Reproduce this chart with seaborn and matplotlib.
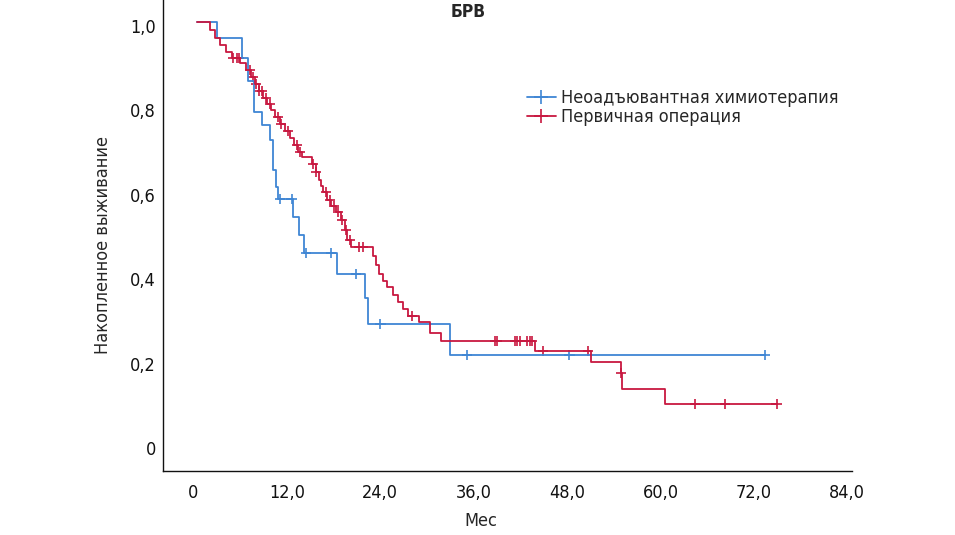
import matplotlib
matplotlib.use('Agg')
import numpy as np
import pandas as pd
import matplotlib.pyplot as plt
import seaborn as sns
from matplotlib.lines import Line2D
from matplotlib.transforms import ScaledTranslation

# groups
groups = ['Неоадъювантная химиотерапия', 'Первичная операция']
colors = ['#3f86d4', '#c81840']

# Kaplan-Meier steps (months, survival after the drop)
nac_t = [2.5, 5.7, 6.5, 7.3, 8.25, 9.3, 9.7, 10.1, 10.4, 12.3, 13.0, 13.7,
         17.9, 21.5, 21.9, 32.4]
nac_s = [0.963, 0.914, 0.859, 0.787, 0.756, 0.720, 0.649, 0.610, 0.581,
         0.539, 0.495, 0.453, 0.402, 0.345, 0.284, 0.211]
nac_cens = [10.6, 12.1, 13.9, 17.2, 20.4, 23.5, 34.6, 47.8, 72.9]

op_t = [1.6, 2.25, 2.9, 3.65, 4.4, 5.45, 6.25, 6.9, 7.4, 7.9, 8.4, 8.95,
        9.45, 9.95, 10.6, 11.25, 11.9, 12.4, 12.9, 13.4, 14.7, 15.2, 15.6,
        15.9, 16.1, 16.6, 17.2, 17.8, 18.4, 19.0, 19.2, 19.7, 22.6, 23.0,
        23.3, 23.8, 24.4, 25.1, 25.8, 26.4, 27.1, 28.5, 29.9, 31.3, 43.4,
        50.5, 54.4, 54.6, 60.1]
op_s = [0.981, 0.962, 0.945, 0.929, 0.915, 0.903, 0.886, 0.870, 0.853,
        0.836, 0.820, 0.806, 0.791, 0.775, 0.758, 0.742, 0.725, 0.709,
        0.692, 0.680, 0.664, 0.645, 0.626, 0.611, 0.597, 0.578, 0.564,
        0.550, 0.531, 0.507, 0.483, 0.467, 0.445, 0.424, 0.403, 0.386,
        0.372, 0.353, 0.336, 0.320, 0.303, 0.289, 0.263, 0.244, 0.220,
        0.194, 0.168, 0.130, 0.095]
op_cens = [4.56, 5.08, 5.3, 6.75, 7.13, 7.52, 7.9, 8.29, 8.8, 9.32, 10.35,
           10.73, 11.63, 12.79, 13.17, 14.84, 15.23, 16.5, 17.0, 17.54,
           18.05, 18.57, 19.09, 19.6, 20.76, 21.27, 27.57, 38.24, 38.53,
           40.8, 41.1, 41.4, 42.4, 42.7, 43.0, 44.4, 50.2, 54.45, 63.9,
           67.8, 74.4]

x_ticks = [0, 12, 24, 36, 48, 60, 72, 84]
x_labels = ['0', '12,0', '24,0', '36,0', '48,0', '60,0', '72,0', '84,0']
y_ticks = [0, 0.2, 0.4, 0.6, 0.8, 1.0]
y_labels = ['0', '0,2', '0,4', '0,6', '0,8', '1,0']


def level_at(t, s, x):
    i = np.searchsorted(t, x, side='right')
    return 1.0 if i == 0 else s[i - 1]


lines = []
cens = []
for name, t, s, c in [(groups[0], nac_t, nac_s, nac_cens),
                      (groups[1], op_t, op_s, op_cens)]:
    tt = [0.0] + t + [max(c)]
    ss = [1.0] + s + [s[-1]]
    lines.append(pd.DataFrame({'t': tt, 's': ss, 'group': name}))
    cens.append(pd.DataFrame({'t': c, 's': [level_at(t, s, x) for x in c],
                              'group': name}))
line_df = pd.concat(lines, ignore_index=True)
cens_df = pd.concat(cens, ignore_index=True)

sns.set_style('white')
plt.rcParams['font.family'] = ['Liberation Sans Narrow', 'DejaVu Sans']
plt.rcParams['font.stretch'] = 'condensed'

fig = plt.figure(figsize=(9.55, 5.35), dpi=100)
ax = fig.add_axes([163 / 955, 64 / 535, 689 / 955, 471 / 535])
pal = dict(zip(groups, colors))

sns.lineplot(data=line_df, x='t', y='s', hue='group', palette=pal,
             drawstyle='steps-post', linewidth=1.3, estimator=None,
             sort=False, legend=False, ax=ax)
sns.scatterplot(data=cens_df, x='t', y='s', hue='group', palette=pal,
                marker='+', s=55, linewidth=1.2, legend=False, ax=ax)

ax.set_xlim(-4.43, 84.1)
ax.set_ylim(-0.064, 1.052)
ax.set_xticks(x_ticks)
ax.set_xticklabels(x_labels)
ax.set_yticks(y_ticks)
ax.set_yticklabels(y_labels)
ax.tick_params(length=0, labelsize=13, colors='#111111')
ax.tick_params(axis='x', pad=9)
ax.tick_params(axis='y', pad=5)
for lab in ax.get_xticklabels():
    lab.set_transform(lab.get_transform() + ScaledTranslation(-4 / 100, 0, fig.dpi_scale_trans))
for lab in ax.get_yticklabels():
    lab.set_transform(lab.get_transform() + ScaledTranslation(0, -4 / 100, fig.dpi_scale_trans))

for side in ['top', 'right']:
    ax.spines[side].set_visible(False)
for side in ['left', 'bottom']:
    ax.spines[side].set_color('#111111')
    ax.spines[side].set_linewidth(1.0)

ax.set_xlabel('Мес', fontsize=13, va='center')
ax.set_ylabel('Накопленное выживание', fontsize=13, va='center')
ax.xaxis.set_label_coords(0.4615, -0.106)
ax.yaxis.set_label_coords(-0.087, 0.48)

fig.text(468 / 955, 1 - 12 / 535, 'БРВ', ha='center', va='center',
         fontsize=12.5, fontweight='bold')

handles = [Line2D([], [], color=c, marker='+', markersize=10, linewidth=1.3,
                  markeredgewidth=1.2) for c in colors]
fig.legend(handles, groups, loc='upper left',
           bbox_to_anchor=(518 / 955, 1 - 80 / 535), frameon=False,
           fontsize=13, handlelength=1.6, handletextpad=0.3,
           labelspacing=0.05, borderpad=0)

fig.savefig('out.png', dpi=100)
